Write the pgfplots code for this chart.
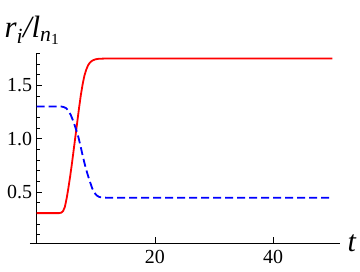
\documentclass[border=0pt]{standalone}
\usepackage{amsmath}
\usepackage{fontspec}
\setmainfont{Liberation Serif}
\usepackage{pgfplots}
\pgfplotsset{compat=1.18}
\begin{document}
\begin{tikzpicture}
\useasboundingbox (0,0) rectangle (360bp,272bp);
\begin{axis}[
  at={(30bp,29bp)}, anchor=south west,
  scale only axis, width=310bp, height=190.3bp,
  xmin=-1.1, xmax=51.3, ymin=0.02, ymax=1.805,
  axis lines=middle,
  axis line style={-, line width=0.8bp},
  tick align=inside,
  major tick length=5.5bp, minor tick length=3bp,
  tick style={black, line width=0.6bp},
  xtick={20,40}, minor xtick={},
  ytick={0.5,1.0,1.5},
  minor ytick={0.1,0.2,0.3,0.4,0.6,0.7,0.8,0.9,1.1,1.2,1.3,1.4,1.6,1.7,1.8},
  /pgf/number format/assume math mode=true,
  yticklabel style={/pgf/number format/fixed, /pgf/number format/fixed zerofill, /pgf/number format/precision=1, anchor=east, xshift=-1bp},
  xticklabel style={anchor=north, yshift=-4bp},
  tick label style={font=\rmfamily\fontsize{20}{22}\selectfont},
  xlabel={\textit{t}},
  xlabel style={at={(rel axis cs:1,0)}, anchor=base west, xshift=4bp, yshift=-9bp, font=\rmfamily\fontsize{30}{32}\selectfont},
  ylabel={$\textit{r}_{\textit{i}}\textit{/}\textit{l}_{\textit{n}_{\text{1}}}$},
  ylabel style={at={(rel axis cs:0,1)}, anchor=base west, rotate=0, xshift=-29bp, yshift=14.7bp, font=\rmfamily\fontsize{31}{33}\selectfont},
  clip=false,
]
\addplot[red, line width=1.8bp] coordinates {
(0,0.30) (3.8,0.30) (4.2,0.305) (4.5,0.32) (4.8,0.36) (5.1,0.44) (5.4,0.54) (5.7,0.65) (6.0,0.77) (6.3,0.90) (6.6,1.03) (6.9,1.16) (7.2,1.29) (7.5,1.41) (7.8,1.51) (8.1,1.59) (8.4,1.645) (8.7,1.685) (9.0,1.71) (9.4,1.73) (9.9,1.742) (10.5,1.748) (11.5,1.75) (50,1.75)
};
\addplot[blue, line width=1.8bp, dash pattern=on 8bp off 4bp] coordinates {
(0,1.30) (4.2,1.30) (4.6,1.295) (5.0,1.285) (5.4,1.26) (5.8,1.22) (6.2,1.165) (6.6,1.10) (7.0,1.03) (7.4,0.94) (7.8,0.84) (8.2,0.75) (8.6,0.67) (9.0,0.60) (9.4,0.535) (9.8,0.49) (10.2,0.465) (10.6,0.452) (11.2,0.446) (12.0,0.445) (50,0.445)
};
\end{axis}
\end{tikzpicture}
\end{document}
